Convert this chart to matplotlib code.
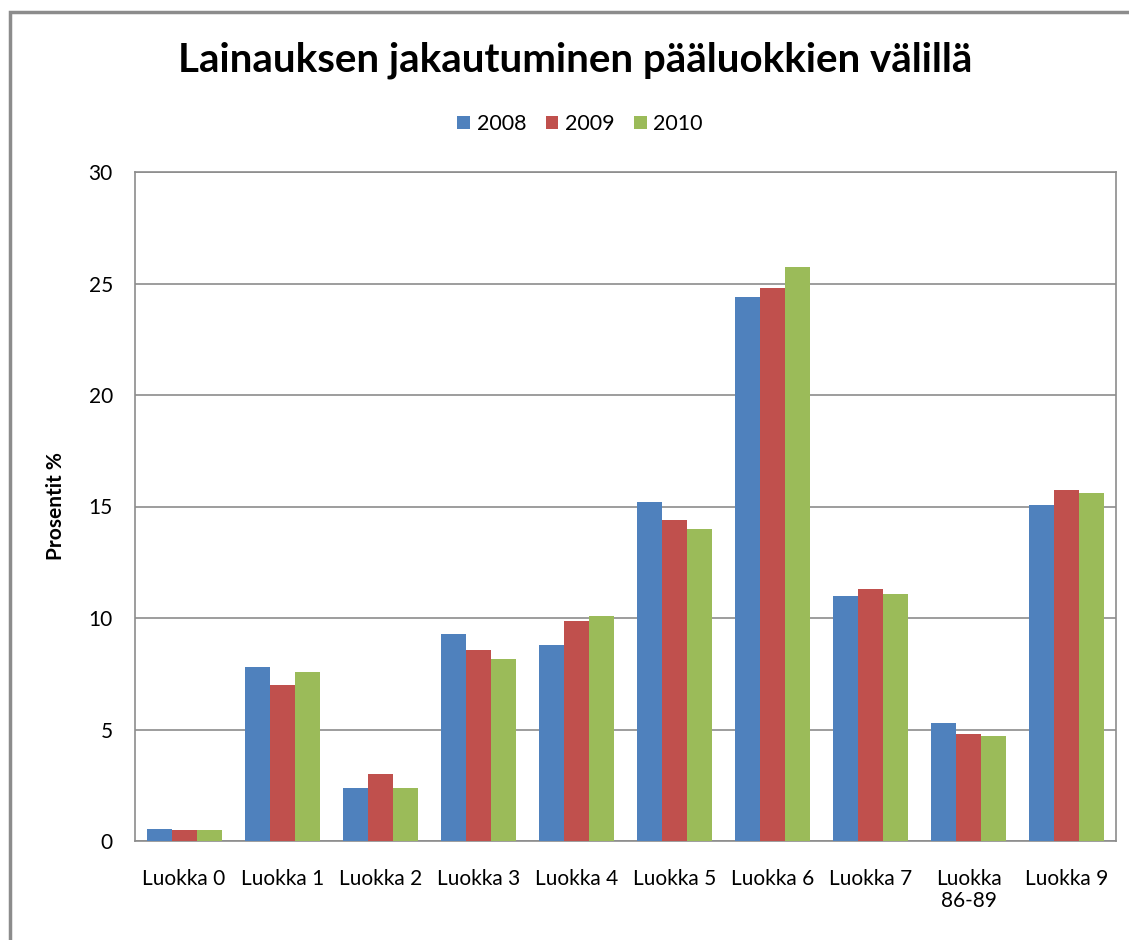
import numpy as np
import matplotlib.pyplot as plt
from matplotlib.patches import Rectangle

# data
categories = ["Luokka 0", "Luokka 1", "Luokka 2", "Luokka 3", "Luokka 4",
              "Luokka 5", "Luokka 6", "Luokka 7", "Luokka\n86-89", "Luokka 9"]
y2008 = [0.56, 7.8, 2.38, 9.3, 8.8, 15.18, 24.4, 10.98, 5.3, 15.08]
y2009 = [0.51, 6.98, 3.02, 8.58, 9.88, 14.41, 24.78, 11.29, 4.8, 15.76]
y2010 = [0.51, 7.6, 2.38, 8.17, 10.1, 14.0, 25.72, 11.08, 4.69, 15.62]
years = ["2008", "2009", "2010"]
colors = ["#4F81BD", "#C0504D", "#9BBB59"]

plt.rcParams['font.family'] = ['Lato', 'DejaVu Sans']

fig = plt.figure(figsize=(11.29, 9.4), dpi=100)
ax = fig.add_axes([135/1129, 1-841/940, (1116-135)/1129, (841-172)/940])

# outer chart frame
fig.patches.append(Rectangle((10/1129, -0.05), 1.2, 1-12/940+0.05, transform=fig.transFigure,
                             fill=False, edgecolor="#8c8c8c", linewidth=2.5))

x = np.arange(len(categories))
w = 0.255
for i, (vals, lab, c) in enumerate(zip([y2008, y2009, y2010], years, colors)):
    ax.bar(x + (i-1)*w, vals, width=w, color=c, label=lab, zorder=3)

ax.set_xlim(-0.5, len(categories)-0.5)
ax.set_ylim(0, 30)
ax.set_yticks(np.arange(0, 31, 5))
ax.set_xticks(x)
ax.set_xticklabels(categories, fontsize=15, linespacing=1.15)
ax.tick_params(axis='both', length=0, labelsize=15)
ax.tick_params(axis='y', pad=16)
ax.tick_params(axis='x', pad=20)
ax.grid(axis='y', color="#8c8c8c", linewidth=1.2, zorder=0)
for s in ax.spines.values():
    s.set_color("#8c8c8c")
    s.set_linewidth(1.2)

ax.set_ylabel("Prosentit %", fontsize=15, fontweight='bold')
ax.yaxis.set_label_coords((66-135)/981, (841-506)/669)

fig.text(575/1129, 1-60/940, "Lainauksen jakautuminen pääluokkien välillä",
         ha='center', va='center', fontsize=29, fontweight='bold')
fig.legend(loc='center', bbox_to_anchor=(580/1129, 1-124/940), ncol=3, frameon=False,
           fontsize=15.5, handlelength=0.6, handleheight=0.6, handletextpad=0.3,
           columnspacing=0.9)

plt.savefig("out.png", dpi=100)
